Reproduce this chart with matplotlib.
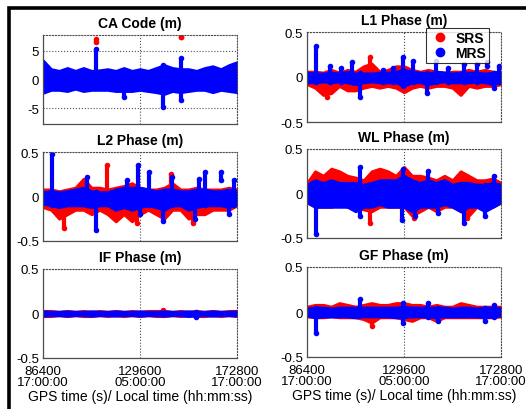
import numpy as np
import matplotlib
matplotlib.use("Agg")
import matplotlib.pyplot as plt
from matplotlib.patches import Rectangle

plt.rcParams['font.family'] = ['Liberation Sans', 'DejaVu Sans']

# hourly grid (hours after 86400 s GPS time)
hours = [0, 1, 2, 3, 4, 5, 6, 7, 8, 9, 10, 11, 12, 13, 14, 15, 16, 17, 18, 19, 20, 21, 22, 23, 24]
x_ticks = [86400, 129600, 172800]
x_ticklabels = ["86400\n17:00:00", "129600\n05:00:00", "172800\n17:00:00"]

# ---- CA Code ----
ca_srs_hi = [3.0, 1.6, 1.4, 1.8, 1.4, 1.8, 1.4, 1.5, 1.6, 1.4, 1.8, 1.4, 1.6, 1.4, 1.8, 2.2, 1.8, 1.6, 1.6, 1.4, 1.8, 2.0, 1.6, 2.2, 2.7]
ca_srs_lo = [-2.1, -1.6, -1.6, -1.8, -1.5, -1.8, -1.6, -1.6, -1.6, -1.8, -1.8, -1.8, -1.6, -1.8, -2.0, -2.2, -1.8, -2.0, -1.8, -1.6, -1.6, -2.0, -1.6, -1.8, -2.0]
ca_mrs_hi = [3.3, 1.8, 1.5, 2.0, 1.5, 2.0, 1.5, 1.6, 1.8, 1.5, 2.0, 1.5, 1.8, 1.5, 2.0, 2.5, 2.0, 1.8, 1.8, 1.5, 2.0, 2.3, 1.8, 2.5, 3.0]
ca_mrs_lo = [-2.3, -1.8, -1.8, -2.0, -1.6, -2.0, -1.8, -1.8, -1.8, -2.0, -2.0, -2.0, -1.8, -2.0, -2.2, -2.5, -2.0, -2.2, -2.0, -1.8, -1.8, -2.2, -1.8, -2.0, -2.2]
ca_srs_spk_t = [6.6, 17.1]
ca_srs_spk_lo = [6.5, 7.3]
ca_srs_spk_hi = [7.0, 7.3]
ca_mrs_spk_t = [6.6, 10.0, 14.9, 17.1]
ca_mrs_spk_lo = [-1.0, -3.0, -4.8, -3.5]
ca_mrs_spk_hi = [5.3, 1.5, 2.5, 3.8]

# ---- L1 Phase ----
l1_srs_hi = [0.06, 0.06, 0.05, 0.08, 0.05, 0.08, 0.06, 0.12, 0.15, 0.06, 0.08, 0.12, 0.12, 0.08, 0.06, 0.08, 0.06, 0.05, 0.06, 0.06, 0.08, 0.06, 0.08, 0.06, 0.05]
l1_srs_lo = [-0.08, -0.12, -0.2, -0.18, -0.1, -0.15, -0.15, -0.12, -0.1, -0.12, -0.1, -0.12, -0.17, -0.12, -0.1, -0.12, -0.1, -0.1, -0.12, -0.2, -0.1, -0.12, -0.1, -0.1, -0.08]
l1_mrs_hi = [0.05, 0.04, 0.04, 0.05, 0.04, 0.06, 0.04, 0.04, 0.04, 0.05, 0.05, 0.06, 0.08, 0.06, 0.05, 0.04, 0.06, 0.05, 0.04, 0.05, 0.05, 0.05, 0.04, 0.05, 0.06]
l1_mrs_lo = [-0.06, -0.06, -0.05, -0.06, -0.05, -0.06, -0.08, -0.06, -0.05, -0.06, -0.06, -0.06, -0.1, -0.06, -0.06, -0.08, -0.06, -0.05, -0.06, -0.06, -0.06, -0.05, -0.06, -0.08, -0.06]
l1_srs_spk_t = [2.5, 7.8]
l1_srs_spk_lo = [-0.22, -0.05]
l1_srs_spk_hi = [0.05, 0.22]
l1_mrs_spk_t = [1.1, 2.8, 4.2, 5.6, 6.5, 9.4, 10.7, 11.9, 13.1, 14.8, 16.0, 17.4, 19.4, 21.0, 22.3, 23.1, 23.7]
l1_mrs_spk_lo = [-0.05, -0.05, -0.05, -0.05, -0.22, -0.05, -0.05, -0.1, -0.05, -0.18, -0.05, -0.05, -0.05, -0.05, 0.12, -0.12, -0.05]
l1_mrs_spk_hi = [0.35, 0.12, 0.10, 0.17, 0.04, 0.08, 0.10, 0.22, 0.18, 0.04, 0.18, 0.10, 0.15, 0.15, 0.17, 0.04, 0.12]

# ---- L2 Phase ----
l2_srs_hi = [0.08, 0.08, 0.06, 0.08, 0.1, 0.2, 0.1, 0.1, 0.08, 0.1, 0.12, 0.15, 0.1, 0.08, 0.08, 0.1, 0.15, 0.08, 0.08, 0.1, 0.08, 0.08, 0.08, 0.1, 0.08]
l2_srs_lo = [-0.12, -0.15, -0.25, -0.2, -0.15, -0.15, -0.2, -0.15, -0.2, -0.28, -0.2, -0.28, -0.2, -0.15, -0.2, -0.25, -0.15, -0.15, -0.25, -0.2, -0.2, -0.15, -0.15, -0.15, -0.1]
l2_mrs_hi = [0.05, 0.06, 0.05, 0.06, 0.08, 0.1, 0.06, 0.05, 0.05, 0.08, 0.1, 0.1, 0.1, 0.08, 0.06, 0.08, 0.08, 0.06, 0.06, 0.08, 0.08, 0.06, 0.06, 0.08, 0.06]
l2_mrs_lo = [-0.08, -0.1, -0.12, -0.1, -0.1, -0.1, -0.12, -0.1, -0.1, -0.15, -0.12, -0.15, -0.12, -0.1, -0.12, -0.15, -0.1, -0.1, -0.15, -0.12, -0.1, -0.1, -0.1, -0.12, -0.08]
l2_srs_spk_t = [2.6, 7.9, 11.6, 15.8, 18.6]
l2_srs_spk_lo = [-0.35, -0.1, -0.3, -0.1, -0.3]
l2_srs_spk_hi = [0.05, 0.35, 0.05, 0.25, 0.05]
l2_mrs_spk_t = [1.1, 5.4, 6.6, 10.4, 11.7, 12.0, 13.1, 14.9, 16.0, 18.8, 19.3, 20.0, 22.0, 23.0, 23.6]
l2_mrs_spk_lo = [-0.1, -0.1, -0.38, -0.1, -0.1, -0.2, -0.1, -0.28, -0.1, -0.25, -0.1, -0.1, 0.18, -0.2, -0.1]
l2_mrs_spk_hi = [0.48, 0.22, 0.05, 0.18, 0.35, 0.05, 0.28, 0.05, 0.22, 0.05, 0.2, 0.27, 0.27, 0.05, 0.18]

# ---- WL Phase ----
wl_srs_hi = [0.12, 0.25, 0.2, 0.28, 0.25, 0.2, 0.18, 0.15, 0.25, 0.28, 0.25, 0.2, 0.3, 0.2, 0.2, 0.18, 0.15, 0.2, 0.15, 0.25, 0.2, 0.15, 0.15, 0.17, 0.12]
wl_srs_lo = [-0.1, -0.15, -0.15, -0.15, -0.12, -0.15, -0.15, -0.18, -0.2, -0.15, -0.15, -0.15, -0.15, -0.25, -0.2, -0.15, -0.2, -0.15, -0.15, -0.2, -0.25, -0.15, -0.15, -0.15, -0.1]
wl_mrs_hi = [0.1, 0.15, 0.12, 0.15, 0.12, 0.12, 0.12, 0.1, 0.12, 0.15, 0.15, 0.15, 0.2, 0.15, 0.12, 0.15, 0.12, 0.15, 0.1, 0.12, 0.12, 0.1, 0.1, 0.12, 0.1]
wl_mrs_lo = [-0.1, -0.15, -0.15, -0.15, -0.15, -0.15, -0.2, -0.15, -0.15, -0.12, -0.15, -0.15, -0.15, -0.2, -0.15, -0.15, -0.15, -0.12, -0.15, -0.2, -0.15, -0.15, -0.2, -0.15, -0.1]
wl_srs_spk_t = [7.8, 13.2, 19.8]
wl_srs_spk_lo = [-0.33, -0.28, -0.28]
wl_srs_spk_hi = [0.1, 0.1, 0.1]
wl_mrs_spk_t = [1.1, 6.5, 11.7, 11.9, 13.3, 15.0, 16.2, 19.4, 22.0, 23.1]
wl_mrs_spk_lo = [-0.45, -0.25, -0.3, -0.1, -0.25, -0.1, -0.22, -0.33, -0.25, -0.1]
wl_mrs_spk_hi = [0.1, 0.3, 0.1, 0.28, 0.1, 0.25, 0.1, 0.1, 0.1, 0.2]

# ---- IF Phase ----
if_srs_hi = [0.03, 0.03, 0.02, 0.03, 0.02, 0.03, 0.02, 0.03, 0.02, 0.03, 0.02, 0.03, 0.02, 0.03, 0.03, 0.03, 0.02, 0.03, 0.02, 0.03, 0.02, 0.03, 0.02, 0.03, 0.03]
if_srs_lo = [-0.03, -0.03, -0.02, -0.03, -0.02, -0.03, -0.03, -0.02, -0.03, -0.02, -0.03, -0.02, -0.03, -0.02, -0.03, -0.03, -0.02, -0.03, -0.02, -0.03, -0.03, -0.02, -0.03, -0.02, -0.03]
if_mrs_hi = [0.025, 0.02, 0.02, 0.025, 0.02, 0.02, 0.025, 0.02, 0.02, 0.025, 0.02, 0.02, 0.025, 0.02, 0.02, 0.025, 0.02, 0.02, 0.025, 0.02, 0.02, 0.025, 0.02, 0.02, 0.025]
if_mrs_lo = [-0.025, -0.02, -0.02, -0.025, -0.02, -0.02, -0.025, -0.02, -0.02, -0.025, -0.02, -0.02, -0.025, -0.02, -0.02, -0.025, -0.02, -0.02, -0.03, -0.02, -0.02, -0.025, -0.02, -0.02, -0.025]
if_srs_spk_t = [14.9]
if_srs_spk_lo = [0.0]
if_srs_spk_hi = [0.04]
if_mrs_spk_t = [18.9]
if_mrs_spk_lo = [-0.035]
if_mrs_spk_hi = [0.02]

# ---- GF Phase ----
gf_srs_hi = [0.06, 0.08, 0.08, 0.06, 0.1, 0.08, 0.06, 0.08, 0.1, 0.08, 0.08, 0.1, 0.1, 0.08, 0.08, 0.06, 0.08, 0.06, 0.06, 0.1, 0.08, 0.06, 0.06, 0.06, 0.06]
gf_srs_lo = [-0.05, -0.06, -0.06, -0.05, -0.06, -0.06, -0.06, -0.08, -0.12, -0.06, -0.06, -0.06, -0.08, -0.1, -0.06, -0.06, -0.1, -0.06, -0.06, -0.06, -0.06, -0.06, -0.06, -0.06, -0.05]
gf_mrs_hi = [0.04, 0.05, 0.05, 0.04, 0.05, 0.05, 0.05, 0.05, 0.05, 0.05, 0.05, 0.05, 0.06, 0.05, 0.05, 0.05, 0.05, 0.05, 0.04, 0.05, 0.05, 0.04, 0.05, 0.05, 0.04]
gf_mrs_lo = [-0.04, -0.06, -0.05, -0.05, -0.05, -0.05, -0.06, -0.05, -0.05, -0.05, -0.05, -0.06, -0.06, -0.05, -0.05, -0.05, -0.06, -0.05, -0.05, -0.05, -0.05, -0.05, -0.06, -0.05, -0.04]
gf_srs_spk_t = [8.0]
gf_srs_spk_lo = [-0.15]
gf_srs_spk_hi = [0.0]
gf_mrs_spk_t = [1.1, 6.5, 11.9, 15.0, 16.2, 22.0, 23.1]
gf_mrs_spk_lo = [-0.23, -0.03, -0.12, -0.05, -0.1, -0.1, -0.05]
gf_mrs_spk_hi = [0.05, 0.15, 0.1, 0.1, 0.05, 0.05, 0.08]

RED = '#ff0000'
BLUE = '#0000ff'
W, H = 526, 410


def to_sec(h):
    return 86400 + 3600 * np.asarray(h, dtype=float)


def draw_series(ax, hi, lo, spk_t, spk_lo, spk_hi, color):
    t = to_sec(hours)
    ax.fill_between(t, lo, hi, color=color, lw=2.0, edgecolor=color, zorder=2)
    ts = to_sec(spk_t)
    ax.vlines(ts, spk_lo, spk_hi, color=color, lw=3.0, zorder=2)
    ax.plot(ts, spk_hi, 'o', color=color, ms=4, mew=0, zorder=2)
    ax.plot(ts, spk_lo, 'o', color=color, ms=4, mew=0, zorder=2)


def panel(rect_px, title, ylim, yticks, yticklabels, srs, mrs, bottom_row):
    l, t, r, b = rect_px
    ax = fig.add_axes([l / W, 1 - b / H, (r - l) / W, (b - t) / H])
    draw_series(ax, *srs, RED)
    draw_series(ax, *mrs, BLUE)
    ax.set_xlim(86400, 172800)
    ax.set_ylim(*ylim)
    ax.set_yticks(yticks)
    ax.set_yticklabels(yticklabels)
    ax.set_xticks(x_ticks)
    if bottom_row:
        ax.set_xticklabels(x_ticklabels, linespacing=0.85)
        ax.set_xlabel("GPS time (s)/ Local time (hh:mm:ss)", fontsize=10, labelpad=1)
    else:
        ax.set_xticklabels([])
    ax.set_axisbelow(True)
    ax.grid(True, linestyle=':', color='0.3', lw=0.8)
    ax.tick_params(length=0, labelsize=9.5, pad=3)
    ax.tick_params(axis='x', pad=5)
    for s in ['top', 'right']:
        ax.spines[s].set_linestyle(':')
        ax.spines[s].set_color('0.3')
        ax.spines[s].set_linewidth(0.8)
    for s in ['left', 'bottom']:
        ax.spines[s].set_color('0.3')
        ax.spines[s].set_linewidth(0.9)
    ax.set_title(title, fontsize=10, fontweight='bold', pad=6)
    return ax


fig = plt.figure(figsize=(W / 100, H / 100), dpi=100)
fig.patch.set_facecolor('white')

half = [-0.5, 0, 0.5]
half_lab = ['-0.5', '0', '0.5']

panel((43, 36, 237, 125), "CA Code (m)", (-7.7, 7.7), [-5, 0, 5], ['-5', '0', '5'],
      (ca_srs_hi, ca_srs_lo, ca_srs_spk_t, ca_srs_spk_lo, ca_srs_spk_hi),
      (ca_mrs_hi, ca_mrs_lo, ca_mrs_spk_t, ca_mrs_spk_lo, ca_mrs_spk_hi), False)
ax_l1 = panel((307, 33, 501, 123), "L1 Phase (m)", (-0.5, 0.5), half, half_lab,
              (l1_srs_hi, l1_srs_lo, l1_srs_spk_t, l1_srs_spk_lo, l1_srs_spk_hi),
              (l1_mrs_hi, l1_mrs_lo, l1_mrs_spk_t, l1_mrs_spk_lo, l1_mrs_spk_hi), False)
panel((43, 153, 237, 242), "L2 Phase (m)", (-0.5, 0.5), half, half_lab,
      (l2_srs_hi, l2_srs_lo, l2_srs_spk_t, l2_srs_spk_lo, l2_srs_spk_hi),
      (l2_mrs_hi, l2_mrs_lo, l2_mrs_spk_t, l2_mrs_spk_lo, l2_mrs_spk_hi), False)
panel((307, 150, 501, 239), "WL Phase (m)", (-0.5, 0.5), half, half_lab,
      (wl_srs_hi, wl_srs_lo, wl_srs_spk_t, wl_srs_spk_lo, wl_srs_spk_hi),
      (wl_mrs_hi, wl_mrs_lo, wl_mrs_spk_t, wl_mrs_spk_lo, wl_mrs_spk_hi), False)
panel((43, 270, 237, 359), "IF Phase (m)", (-0.5, 0.5), half, half_lab,
      (if_srs_hi, if_srs_lo, if_srs_spk_t, if_srs_spk_lo, if_srs_spk_hi),
      (if_mrs_hi, if_mrs_lo, if_mrs_spk_t, if_mrs_spk_lo, if_mrs_spk_hi), True)
panel((307, 268, 501, 358), "GF Phase (m)", (-0.5, 0.5), half, half_lab,
      (gf_srs_hi, gf_srs_lo, gf_srs_spk_t, gf_srs_spk_lo, gf_srs_spk_hi),
      (gf_mrs_hi, gf_mrs_lo, gf_mrs_spk_t, gf_mrs_spk_lo, gf_mrs_spk_hi), True)

# legend in the L1 panel
h_srs, = ax_l1.plot([], [], 'o', color=RED, ms=6, label='SRS')
h_mrs, = ax_l1.plot([], [], 'o', color=BLUE, ms=6, label='MRS')
leg = ax_l1.legend(handles=[h_srs, h_mrs], loc='upper right',
                   bbox_to_anchor=(489 / W, 1 - 29 / H), bbox_transform=fig.transFigure,
                   prop={'weight': 'bold', 'size': 10}, frameon=True, fancybox=False,
                   borderpad=0.2, labelspacing=0.1, handletextpad=0.4, handlelength=1.5,
                   borderaxespad=0)
leg.get_frame().set_edgecolor('black')
leg.get_frame().set_linewidth(0.8)
leg.set_zorder(10)

# black frame around the figure (top and left visible)
fig.add_artist(Rectangle((8.5 / W, -0.2), 1.2, 1.2 - 8.5 / H, transform=fig.transFigure,
                         fill=False, edgecolor='black', lw=2.6, clip_on=False))

fig.savefig('out.png', dpi=100)
